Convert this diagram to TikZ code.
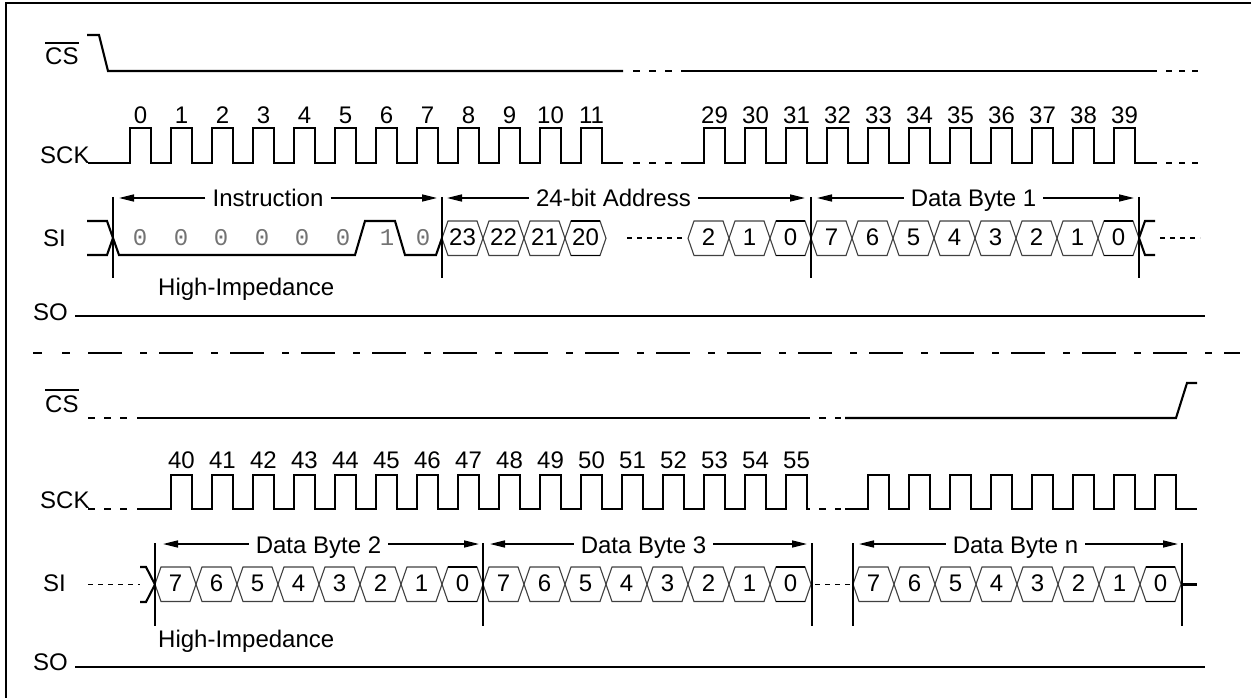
\documentclass[tikz,border=0pt]{standalone}
\usepackage{fontspec}
\setmainfont{Liberation Sans}
\newfontfamily\monofnt{Liberation Mono}
\usetikzlibrary{arrows.meta}
\newcommand\myhexrow[4]{% #1 start x, #2 top y, #3 labels, #4 name prefix
  \foreach \hl [count=\hi from 0] in {#3} {
    \pgfmathsetmacro\ha{#1+41*\hi}
    \draw[hexline] (\ha,#2+17.25) -- (\ha+6,#2) -- (\ha+35,#2) -- (\ha+41,#2+17.25) -- (\ha+35,#2+34.5) -- (\ha+6,#2+34.5) -- cycle;
    \node[txt] (#4\hi) at (\ha+20.5,#2+24) {\hl};
  }}
\newcommand\mythick[2]{% #1 start x of cell, #2 top y
  \draw[thickedge] (#1+6,#2) -- (#1+35,#2);
  \draw[thickedge] (#1+6,#2+34.5) -- (#1+35,#2+34.5);}
\begin{document}
\begin{tikzpicture}[x=1pt,y=-1pt,
  wave/.style={line width=2.1pt, line join=miter, line cap=butt},
  hexline/.style={line width=1.1pt, black!75},
  thickedge/.style={line width=1.7pt},
  frame/.style={line width=1.6pt},
  dsh/.style={line width=2.1pt, dash pattern=on 7pt off 9pt},
  dots/.style={line width=1.7pt, dash pattern=on 5pt off 5pt},
  marker/.style={line width=2pt},
  txt/.style={font=\fontsize{24}{28}\selectfont, inner sep=0pt, anchor=base},
  arrtxt/.style={txt, inner xsep=7pt},
  graydig/.style={font=\monofnt\fontsize{24}{28}\selectfont, text=black!55, inner sep=0pt, anchor=base},
  arr/.style={line width=1.6pt, -{Triangle[length=15pt,width=7pt]}},
  ovl/.style={line width=1.6pt}
]
\useasboundingbox (0,0) rectangle (1251,698);
\draw[frame] (1251,3) -- (6,3) -- (6,698);

% ================= TOP HALF =================
% CS
\node[txt,anchor=base west] (cs1) at (45,65) {CS};
\draw[ovl] ([yshift=5pt]cs1.north west) -- ([yshift=5pt]cs1.north east);
\draw[wave] (87,35) -- (99,35) -- (108,71) -- (623,71);
\draw[dsh] (633,71) -- (673,71);
\draw[wave] (681,71) -- (1157,71);
\draw[dsh, dash pattern=on 6pt off 7pt] (1166,71) -- (1200,71);

% SCK
\node[txt,anchor=base west] (sck1) at (40,164) {SCK};
\draw[wave] (88,163) \foreach \s in {0,...,11} { -- ({130+41*\s},163) -- ++(0,-35) -- ++(21,0) -- ++(0,35) } -- (623,163);
\draw[dsh] (633,163) -- (673,163);
\draw[wave] (681,163) \foreach \s in {14,...,24} { -- ({130+41*\s},163) -- ++(0,-35) -- ++(21,0) -- ++(0,35) } -- (1157,163);
\draw[dsh, dash pattern=on 6pt off 7pt] (1166,163) -- (1200,163);
\foreach \s in {0,...,11} {\node[txt] (nt\s) at ({140.5+41*\s},124) {\s};}
\foreach \s in {29,...,39} {\node[txt] (nt\s) at ({140.5+41*(\s-15)},124) {\s};}

% SI
\node[txt,anchor=base west] (si1) at (43,246) {SI};
\draw[wave] (87,221) -- (107,221) -- (113,238) -- (119,255) -- (355,255) -- (365,221) -- (395,221) -- (405,255) -- (436,255) -- (442,238);
\draw[wave] (87,255) -- (107,255) -- (113,238);
\foreach \x/\d [count=\k] in {140/0,181/0,221/0,262/0,302/0,343/0,387/1,423/0} {\node[graydig] (ib\k) at (\x,245) {\d};}
\myhexrow{442}{221}{23,22,21,20}{ah}
\mythick{565}{221}
\draw[dots] (627,238) -- (684,238);
\myhexrow{688}{221}{2,1,0}{al}
\mythick{770}{221}
\myhexrow{811}{221}{7,6,5,4,3,2,1,0}{da}
\mythick{1098}{221}
\draw[wave] (1139,238) -- (1145,221) -- (1155,221);
\draw[wave] (1139,238) -- (1145,255) -- (1155,255);
\draw[dots] (1160,238) -- (1200,238);
% markers
\foreach \x [count=\k] in {113,442,811,1139} {\draw[marker] (\x,197) coordinate (mt\k) -- (\x,278);}
% arrows
\node[arrtxt] (instr) at (268,206) {Instruction};
\coordinate (ia) at (119,198); \coordinate (ib) at (437,198);
\draw[arr] (instr.west |- ia) -- (ia);
\draw[arr] (instr.east |- ib) -- (ib);
\node[arrtxt] (addr) at (613.5,206) {24-bit Address};
\coordinate (aa) at (447,198); \coordinate (ab) at (805,198);
\draw[arr] (addr.west |- aa) -- (aa);
\draw[arr] (addr.east |- ab) -- (ab);
\node[arrtxt] (db1) at (973.5,206) {Data Byte 1};
\coordinate (da1) at (817,198); \coordinate (db1e) at (1134,198);
\draw[arr] (db1.west |- da1) -- (da1);
\draw[arr] (db1.east |- db1e) -- (db1e);

% SO
\node[txt,anchor=base west] (hi1) at (158,295) {High-Impedance};
\node[txt,anchor=base west] (so1) at (33,320) {SO};
\draw[wave] (75,316) -- (1205,316);

% separator
\draw[wave] (33,353) -- (42,353);
\draw[wave] (62,353) -- (70,353);
\draw[wave, dash pattern=on 34pt off 18pt on 7pt off 12pt] (88,353) -- (1240,353);

% ================= BOTTOM HALF =================
% CS
\node[txt,anchor=base west] (cs2) at (45,412) {CS};
\draw[ovl] ([yshift=5pt]cs2.north west) -- ([yshift=5pt]cs2.north east);
\draw[dsh] (88,418) -- (128,418);
\draw[wave] (137,418) -- (810,418);
\draw[dsh] (819,418) -- (841,418);
\draw[wave] (845,418) -- (1176,418) -- (1187,383) -- (1197,383);

% SCK
\node[txt,anchor=base west] (sck2) at (40,508) {SCK};
\draw[dsh] (88,509) -- (128,509);
\draw[wave] (137,509) \foreach \s in {1,...,16} { -- ({130+41*\s},509) -- ++(0,-34) -- ++(21,0) -- ++(0,34) } -- (810,509);
\draw[dsh] (819,509) -- (841,509);
\draw[wave] (845,509) \foreach \s in {18,...,25} { -- ({130+41*\s},509) -- ++(0,-34) -- ++(21,0) -- ++(0,34) } -- (1197,509);
\foreach \s in {40,...,55} {\node[txt] (nb\s) at ({140.5+41*(\s-39)},468) {\s};}

% SI
\node[txt,anchor=base west] (si2) at (43,591) {SI};
\draw[dots] (88,584.5) -- (140,584.5);
\draw[wave] (140,567) -- (146,567) -- (155,584.5);
\draw[wave] (140,602) -- (146,602) -- (155,584.5);
\myhexrow{155}{567}{7,6,5,4,3,2,1,0}{bb}
\mythick{442}{567}
\myhexrow{483}{567}{7,6,5,4,3,2,1,0}{bc}
\mythick{770}{567}
\draw[dots] (815,584.5) -- (852,584.5);
\myhexrow{853}{567}{7,6,5,4,3,2,1,0}{bn}
\mythick{1140}{567}
\draw[wave] (1181,584.5) -- (1197,584.5);
\foreach \x [count=\k] in {155,483,812,853,1182} {\draw[marker] (\x,543) coordinate (mb\k) -- (\x,626);}
% arrows
\node[arrtxt] (db2) at (318.5,553) {Data Byte 2};
\coordinate (b2a) at (163,544); \coordinate (b2b) at (479,544);
\draw[arr] (db2.west |- b2a) -- (b2a);
\draw[arr] (db2.east |- b2b) -- (b2b);
\node[arrtxt] (db3) at (643.5,553) {Data Byte 3};
\coordinate (b3a) at (490,544); \coordinate (b3b) at (807,544);
\draw[arr] (db3.west |- b3a) -- (b3a);
\draw[arr] (db3.east |- b3b) -- (b3b);
\node[arrtxt] (dbn) at (1015.5,553) {Data Byte n};
\coordinate (bna) at (859,544); \coordinate (bnb) at (1178,544);
\draw[arr] (dbn.west |- bna) -- (bna);
\draw[arr] (dbn.east |- bnb) -- (bnb);

% SO
\node[txt,anchor=base west] (hi2) at (158,647) {High-Impedance};
\node[txt,anchor=base west] (so2) at (33,670) {SO};
\draw[wave] (75,667) -- (1205,667);
\end{tikzpicture}
\end{document}
